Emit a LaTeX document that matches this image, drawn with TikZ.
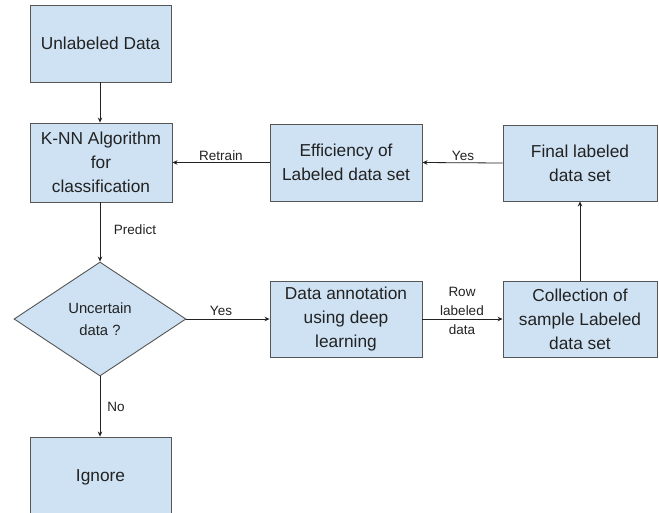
\documentclass[tikz,border=0pt]{standalone}
\usepackage{fontspec}
\setmainfont{Liberation Sans}
\usetikzlibrary{shapes.geometric,arrows.meta}
\definecolor{boxfill}{HTML}{CFE2F3}
\definecolor{boxline}{HTML}{555555}
\definecolor{ink}{HTML}{222222}
\tikzset{
  stepbox/.style={draw=boxline, fill=boxfill, line width=0.9pt, align=center,
    inner sep=0pt, text=ink, font=\fontsize{17.3}{24}\selectfont},
  decision/.style={diamond, draw=boxline, fill=boxfill, line width=0.9pt, align=center,
    inner sep=0pt, text=ink, font=\fontsize{14.8}{22}\selectfont},
  flow/.style={draw=ink, line width=0.8pt, -{Stealth[length=5pt,width=4.5pt]}},
  tag/.style={text=ink, font=\fontsize{13.5}{19}\selectfont, align=center, inner sep=1pt}
}
\begin{document}
\begin{tikzpicture}[x=1pt,y=-1pt]
\useasboundingbox[fill=white] (0,0) rectangle (659,512);

% process boxes
\node[stepbox, minimum width=141pt, minimum height=77pt] (raw) at (100.5,43.5) {Unlabeled Data};
\node[stepbox, minimum width=142pt, minimum height=79pt] (knn) at (101,162.5) {K-NN Algorithm\\for\\classification};
\node[stepbox, minimum width=152pt, minimum height=77pt] (eff) at (346,162.5) {Efficiency of\\Labeled data set};
\node[stepbox, minimum width=154pt, minimum height=76pt] (fin) at (580,163) {Final labeled\\data set};
\node[stepbox, minimum width=152pt, minimum height=76pt] (ann) at (346,319) {Data annotation\\using deep\\learning};
\node[stepbox, minimum width=154pt, minimum height=76pt] (coll) at (580,319) {Collection of\\sample Labeled\\data set};
\node[stepbox, minimum width=141pt, minimum height=80pt] (ign) at (100.5,477) {Ignore};

% decision
\node[decision, minimum width=172pt, minimum height=114pt] (dec) at (100,319) {Uncertain\\data ?};

% connectors
\draw[flow] (raw.south -| 100,0) -- (knn.north -| 100,0);
\draw[flow] (knn.south -| 100,0) -- (dec.north);
\draw[flow] (dec.east) -- (ann.west);
\draw[flow] (ann.east) -- (coll.west);
\draw[flow] (coll.north) -- (fin.south);
\draw[flow] (fin.west) -- (eff.east);
\draw[flow] (eff.west) -- (knn.east);
\draw[flow] (dec.south) -- (ign.north -| dec.south);

% connector labels
\node[tag] (lretrain) at (221,156) {Retrain};
\node[tag] (lyes1) at (463,156) {Yes};
\node[tag] (lpredict) at (135,230) {Predict};
\node[tag] (lyes2) at (221,311) {Yes};
\node[tag] (lrow) at (462,311) {Row\\labeled\\data};
\node[tag] (lno) at (116,407) {No};
\end{tikzpicture}
\end{document}
